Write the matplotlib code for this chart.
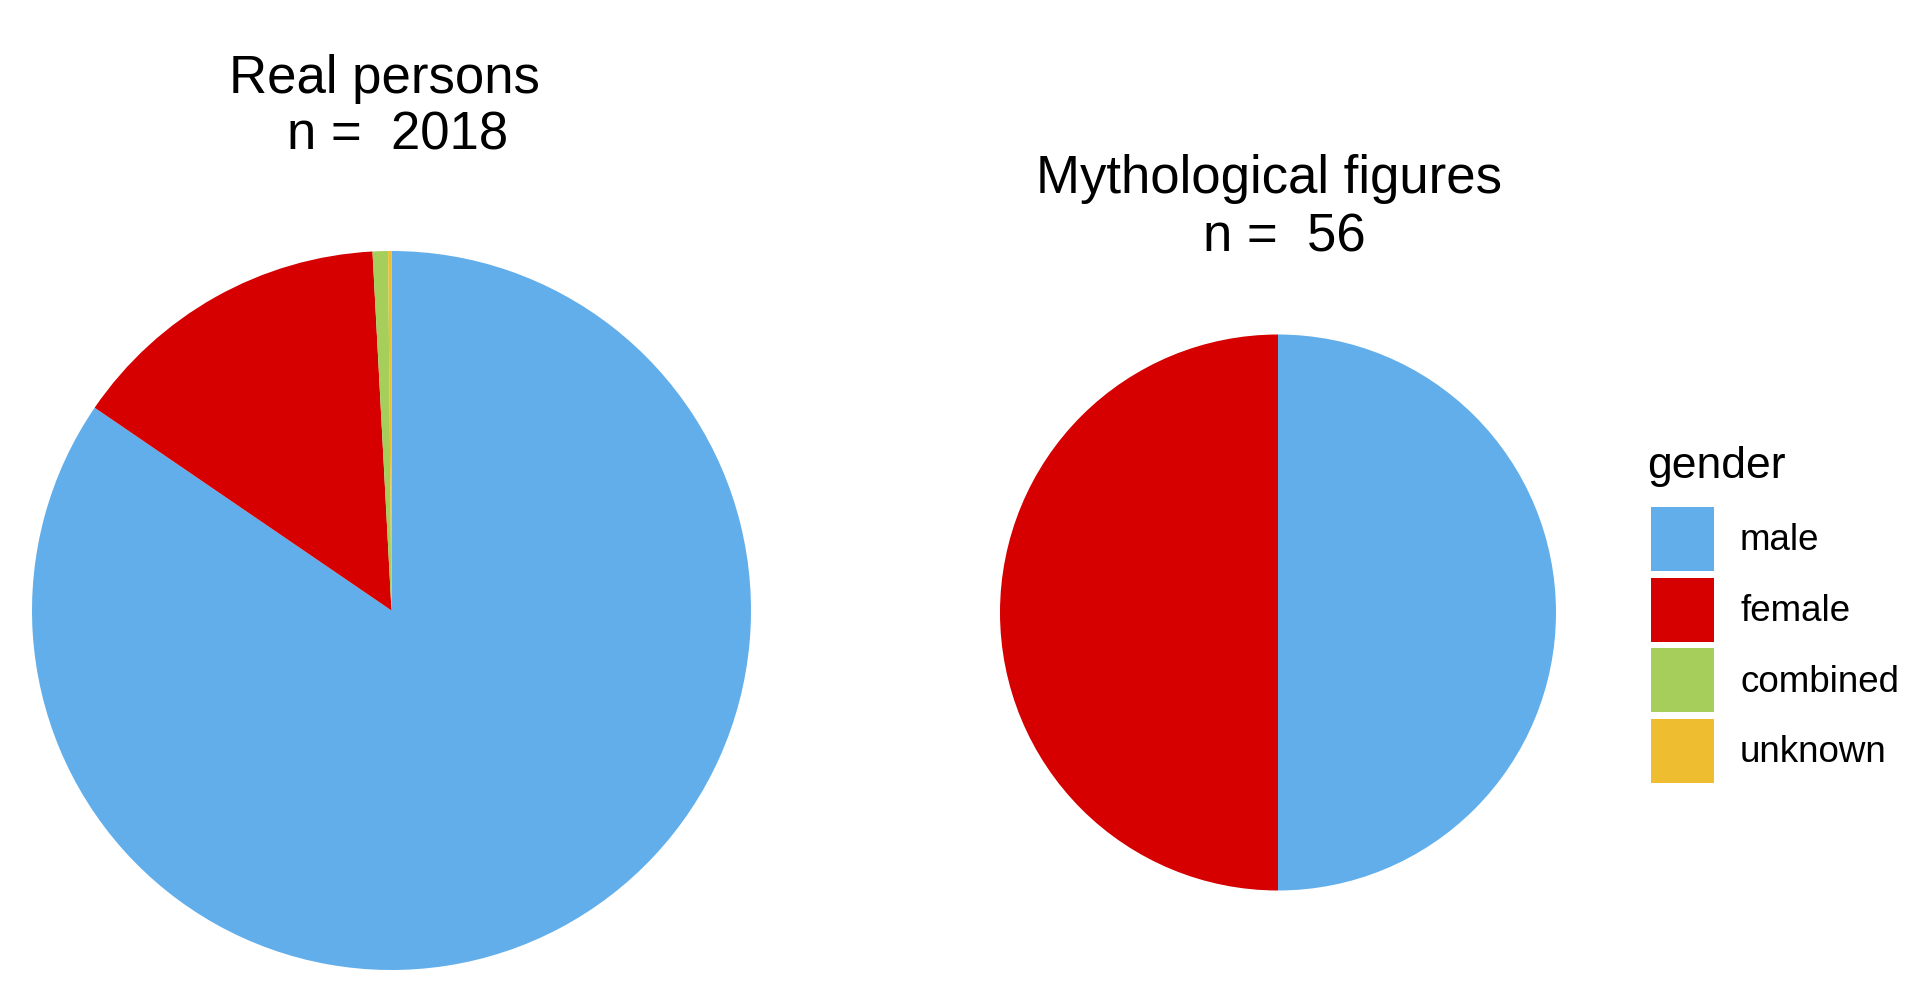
#!/usr/bin/env python3
# Gender split of real persons vs mythological figures, two pies + shared legend.

import matplotlib
matplotlib.use("Agg")
import matplotlib.pyplot as plt
from matplotlib.patches import Patch

# data
GENDERS = ['male', 'female', 'combined', 'unknown']
REAL_COUNTS = [1706, 295, 14, 3]
MYTH_COUNTS = [28, 28, 0, 0]

COLORS = {
    'male':     '#62AEEA',
    'female':   '#D60000',
    'combined': '#A6CE5B',
    'unknown':  '#EEBE30',
}

W, H = 1933, 1000

plt.rcParams['font.family'] = ['Liberation Sans', 'DejaVu Sans']


def px_axes(fig, cx, cy, r):
    # axes box around a circle given in pixel coords (y from top)
    return fig.add_axes([(cx - r) / W, 1 - (cy + r) / H, 2 * r / W, 2 * r / H])


def pie_panel(ax, counts):
    ax.pie(counts, colors=[COLORS[g] for g in GENDERS], startangle=90,
           counterclock=False, radius=1, wedgeprops=dict(linewidth=0))
    ax.set_xlim(-1, 1)
    ax.set_ylim(-1, 1)
    ax.set_aspect('equal')
    ax.axis('off')


def title_lines(fig, name, n, x1, y1, x2, y2, fs=38):
    fig.text(x1 / W, 1 - y1 / H, name, ha='center', va='baseline', fontsize=fs)
    fig.text(x2 / W, 1 - y2 / H, f"n =  {n}", ha='center', va='baseline', fontsize=fs)


fig = plt.figure(figsize=(W / 100, H / 100), dpi=100)
fig.patch.set_facecolor('white')

pie_panel(px_axes(fig, 391.5, 610.5, 359.5), REAL_COUNTS)
pie_panel(px_axes(fig, 1278, 612.5, 278), MYTH_COUNTS)

title_lines(fig, 'Real persons', sum(REAL_COUNTS), 384, 93, 398, 150)
title_lines(fig, 'Mythological figures', sum(MYTH_COUNTS), 1269, 193, 1284, 252)

# legend: title as its own text so the gap to the keys matches
fig.text(1647 / W, 1 - 478 / H, 'gender', ha='left', va='baseline', fontsize=32)

handles = [Patch(facecolor=COLORS[g], edgecolor='none') for g in GENDERS]
fig.legend(handles, GENDERS, loc='upper left',
           bbox_to_anchor=(1651 / W, 1 - 507 / H), frameon=False,
           fontsize=26.5, handlelength=1.71, handleheight=2.30,
           handletextpad=0.71, labelspacing=0.18,
           borderpad=0, borderaxespad=0)

fig.savefig('out.png', dpi=100, facecolor='white')
plt.close(fig)
